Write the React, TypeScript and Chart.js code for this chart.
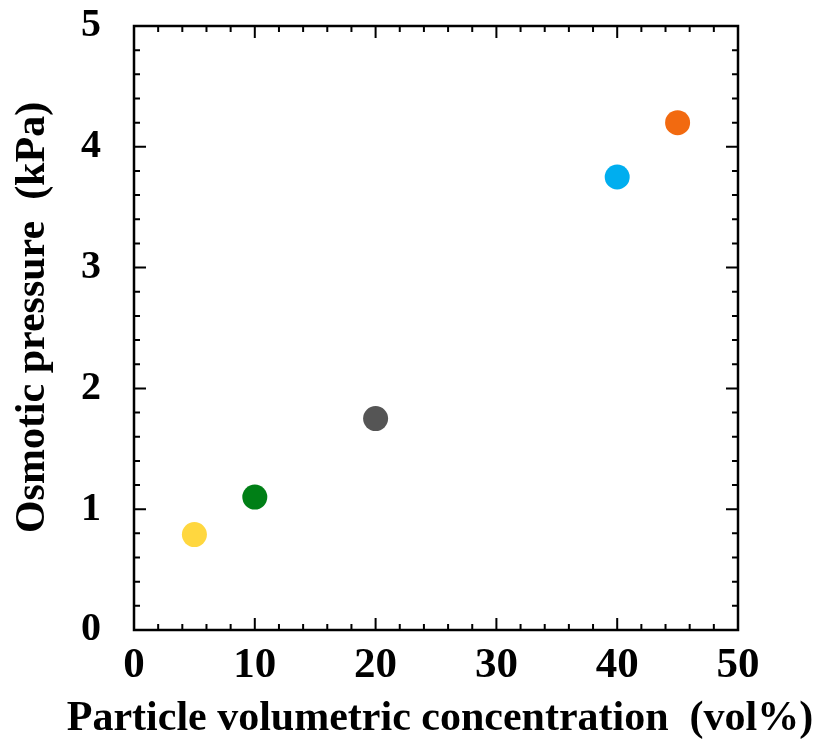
import React, { useEffect, useRef } from "react";
import { Chart, registerables } from "chart.js";

Chart.register(...registerables);

const concentrations = [5, 10, 20, 40, 45];
const pressures = [0.79, 1.1, 1.75, 3.75, 4.2];
const pointColors = ["#FFD73F", "#007F16", "#555555", "#00AEEF", "#F26A10"];
const xTicks = [0, 10, 20, 30, 40, 50];
const yTicks = [0, 1, 2, 3, 4, 5];
const xTitle = "Particle volumetric concentration  (vol%)";
const yTitle = "  Osmotic pressure  (kPa)";

const FONT = "'Liberation Serif', 'Times New Roman', serif";

const frameTicks = {
  id: "frameTicks",
  afterDraw(chart: any) {
    const { ctx, chartArea } = chart;
    const xs = chart.scales.x;
    const ys = chart.scales.y;
    const { left, right, top, bottom } = chartArea;
    ctx.save();
    ctx.strokeStyle = "#000";
    ctx.lineWidth = 2;
    ctx.beginPath();
    for (let i = 0; i <= 25; i++) {
      const v = i * 2;
      const px = xs.getPixelForValue(v);
      const len = i % 5 === 0 ? 12 : 6;
      ctx.moveTo(px, bottom);
      ctx.lineTo(px, bottom - len);
      ctx.moveTo(px, top);
      ctx.lineTo(px, top + len);
    }
    for (let i = 0; i <= 25; i++) {
      const v = i * 0.2;
      const py = ys.getPixelForValue(v);
      const len = i % 5 === 0 ? 12 : 6;
      ctx.moveTo(left, py);
      ctx.lineTo(left + len, py);
      ctx.moveTo(right, py);
      ctx.lineTo(right - len, py);
    }
    ctx.stroke();
    ctx.lineWidth = 2.5;
    ctx.strokeRect(left, top, right - left, bottom - top);
    // x axis title (drawn manually to avoid width squeezing)
    ctx.fillStyle = "#000";
    ctx.font = `bold 42px ${FONT}`;
    ctx.textAlign = "center";
    ctx.textBaseline = "alphabetic";
    ctx.fillText(xTitle, (left + right) / 2 + 4, 730);
    ctx.restore();
  },
};

export default function App() {
  const ref = useRef<HTMLCanvasElement>(null);
  useEffect(() => {
    document.body.style.margin = "0";
    const chart = new Chart(ref.current!, {
      type: "scatter",
      data: {
        datasets: [
          {
            data: concentrations.map((x, i) => ({ x, y: pressures[i] })),
            pointBackgroundColor: pointColors,
            pointBorderWidth: 0,
            pointRadius: 12.5,
            pointHoverRadius: 12.5,
          },
        ],
      },
      options: {
        animation: false,
        responsive: false,
        events: [],
        layout: { padding: { top: 26, right: 85, left: 0, bottom: 0 } },
        plugins: { legend: { display: false }, tooltip: { enabled: false } },
        scales: {
          x: {
            type: "linear",
            min: 0,
            max: 50,
            afterBuildTicks: (s: any) => {
              s.ticks = xTicks.map((v) => ({ value: v }));
            },
            afterFit: (s: any) => {
              s.height = 114;
              s.paddingLeft = 0;
              s.paddingRight = 0;
            },
            grid: { display: false },
            border: { display: false },
            ticks: {
              color: "#000",
              padding: 2,
              font: { family: FONT, size: 43, weight: "bold" },
            },
            title: { display: false },
          },
          y: {
            type: "linear",
            min: 0,
            max: 5,
            afterBuildTicks: (s: any) => {
              s.ticks = yTicks.map((v) => ({ value: v }));
            },
            afterFit: (s: any) => {
              s.width = 134;
              s.paddingTop = 0;
              s.paddingBottom = 0;
            },
            grid: { display: false },
            border: { display: false },
            ticks: {
              color: "#000",
              padding: 25,
              font: { family: FONT, size: 40, weight: "bold" },
            },
            title: {
              display: true,
              text: yTitle,
              color: "#000",
              padding: { top: 8, bottom: 0 },
              font: { family: FONT, size: 42, weight: "bold" },
            },
          },
        },
      },
      plugins: [frameTicks],
    });
    return () => chart.destroy();
  }, []);
  return <canvas ref={ref} width={823} height={744} style={{ display: "block" }} />;
}
